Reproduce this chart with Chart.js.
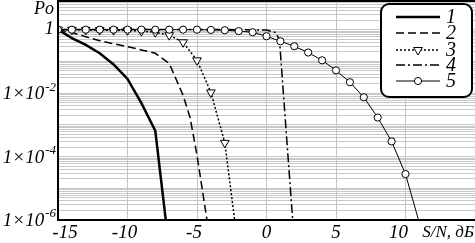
<!DOCTYPE html>
<html><head><meta charset="utf-8">
<script src="https://cdn.jsdelivr.net/npm/chart.js@4"></script>
<style>html,body{margin:0;padding:0;background:#fff;}#wrap{width:475px;height:243px;position:relative;}</style>
</head><body><div id="wrap"><canvas id="c" width="475" height="243"></canvas></div>
<script>
// ---- data ----
const x1 = [-15,-14,-13,-12,-11,-10,-9,-8,-7];
const y1 = [1,0.54,0.33,0.18,0.08,0.028,0.0048,0.00065,1.2e-7];
const x2 = [-15,-14,-13,-12,-11,-10,-9,-8,-7,-6,-5.5,-5,-4];
const y2 = [1,0.8,0.6,0.45,0.36,0.29,0.23,0.18,0.087,0.0085,0.0017,0.00011,1.6e-7];
const x3 = [-15,-14,-13,-12,-11,-10,-9,-8,-7,-6,-5,-4,-3,-2];
const y3 = [1,0.99,0.98,0.97,0.96,0.95,0.9,0.83,0.67,0.4,0.108,0.0105,0.00027,1e-7];
const x4 = [-15,-10,-5,-2,0,0.7,0.94,2];
const y4 = [1.02,1.02,1.01,1.0,0.97,0.8,0.43,2e-7];
const x5 = [-15,-14,-13,-12,-11,-10,-9,-8,-7,-6,-5,-4,-3,-2,-1,0,1,2,3,4,5,6,7,8,9,10,11];
const y5 = [1,1,1,1,1,1,1,1,1,1,1,0.98,0.96,0.9,0.83,0.62,0.43,0.3,0.19,0.108,0.052,0.022,0.0074,0.0017,0.0003,0.000028,8e-7];
const seriesNames = ["1","2","3","4","5"];
const xTickValues = [-15,-10,-5,0,5,10];
const xAxisTitle = "S/N, дБ";
const yTickValues = [1,1e-2,1e-4,1e-6];
const yTickExp = [0,-2,-4,-6];
const yAxisTitle = "Po";
const xMin = -15, xMax = 15, yMin = 1e-6, yMax = 8;

const pts = (xs, ys) => xs.map((x,i)=>({x:x, y:ys[i]}));
const gridValues = [];
for (let e=-6; e<=0; e++) for (let n=1;n<=9;n++){ const v=n*Math.pow(10,e); if(v>=yMin && v<=yMax) gridValues.push(v); }

const SERIF = '"Liberation Serif", "DejaVu Serif", serif';
const FONT = 'italic 19px ' + SERIF;
const styles = [
  {borderWidth:2.5, borderDash:[], radius:0},
  {borderWidth:1.5, borderDash:[8,4], radius:0},
  {borderWidth:1.5, borderDash:[2,2], radius:5, pstyle:'triangle', rot:180},
  {borderWidth:1.5, borderDash:[9,3,2,3], radius:0},
  {borderWidth:1, borderDash:[], radius:3.6, pstyle:'circle'}
];
const dataSets = [pts(x1,y1),pts(x2,y2),pts(x3,y3),pts(x4,y4),pts(x5,y5)];

const datasets = dataSets.map((d,i)=>{
  const s = styles[i];
  const r = s.radius;
  return {
    label: seriesNames[i], data: d,
    borderColor:'#000', backgroundColor:'#fff', borderWidth:s.borderWidth,
    borderDash:s.borderDash, tension:0,
    pointRadius: (i===4 || i===2) ? d.map((p,k)=>k===d.length-1?0:r) : r,
    pointStyle: s.pstyle || 'circle', pointRotation: s.rot||0,
    pointBorderWidth: 1, pointBorderColor:'#000', pointBackgroundColor:'#fff',
    clip: 0, order: 5-i
  };
});

function drawSample(ctx, i, x0, x1, y){
  const s = styles[i];
  ctx.save();
  ctx.strokeStyle='#000'; ctx.lineWidth=s.borderWidth; ctx.setLineDash(s.borderDash);
  ctx.beginPath(); ctx.moveTo(x0,y); ctx.lineTo(x1,y); ctx.stroke();
  ctx.setLineDash([]);
  const cx=(x0+x1)/2;
  if (s.pstyle==='triangle'){
    const r=5; ctx.lineWidth=1; ctx.fillStyle='#fff';
    ctx.beginPath(); ctx.moveTo(cx-r*0.87,y-r*0.5); ctx.lineTo(cx+r*0.87,y-r*0.5); ctx.lineTo(cx,y+r); ctx.closePath(); ctx.fill(); ctx.stroke();
  } else if (s.pstyle==='circle'){
    ctx.lineWidth=1; ctx.fillStyle='#fff';
    ctx.beginPath(); ctx.arc(cx,y,3.6,0,Math.PI*2); ctx.fill(); ctx.stroke();
  }
  ctx.restore();
}

const deco = {
  id:'deco',
  afterDraw(chart){
    const ctx=chart.ctx, a=chart.chartArea, xs=chart.scales.x, ys=chart.scales.y;
    ctx.save();
    ctx.strokeStyle='#000'; ctx.lineWidth=2;
    ctx.beginPath(); ctx.moveTo(a.left, 1); ctx.lineTo(a.right, 1); ctx.stroke();
    ctx.beginPath(); ctx.moveTo(a.left, 0); ctx.lineTo(a.left, a.bottom); ctx.lineTo(a.right, a.bottom); ctx.stroke();
    ctx.fillStyle='#000'; ctx.font=FONT; ctx.textBaseline='middle'; ctx.textAlign='center';
    xTickValues.forEach(v=>{
      let px = xs.getPixelForValue(v);
      if (v===xMin) px += 7;
      else if (v<0) px -= 3;
      else if (v===10) px -= 7;
      ctx.fillText(String(v), px, 233);
    });
    ctx.font='italic 17px ' + SERIF; ctx.textAlign='right';
    ctx.fillText(xAxisTitle, 474, 233);
    yTickValues.forEach((v,i)=>{
      const py = ys.getPixelForValue(v);
      const e = yTickExp[i];
      if (e===0){ ctx.font=FONT; ctx.textAlign='right'; ctx.fillText('1', 54, py-1); }
      else {
        ctx.font='italic 13px ' + SERIF; ctx.textAlign='right';
        const sup=String(e); const w=ctx.measureText(sup).width;
        ctx.fillText(sup, 56, py-6);
        ctx.font=FONT; ctx.fillText('1\u00d710', 56-w-1, py+1);
      }
    });
    ctx.font='italic 18px ' + SERIF; ctx.textAlign='center';
    ctx.fillText(yAxisTitle, 44, 9);
    const L=381, T=4, R=472, B=97, rad=8;
    ctx.fillStyle='#fff'; ctx.strokeStyle='#000'; ctx.lineWidth=2;
    ctx.beginPath(); ctx.roundRect(L,T,R-L,B-T,rad); ctx.fill(); ctx.stroke();
    const rows=[17,33,50,65,81];
    seriesNames.forEach((n,i)=>{
      drawSample(ctx,i,396,440,rows[i]);
      ctx.fillStyle='#000'; ctx.font='italic 20px ' + SERIF; ctx.textAlign='center'; ctx.textBaseline='middle';
      ctx.fillText(n, 451, rows[i]+1);
    });
    ctx.restore();
  }
};

new Chart(document.getElementById('c'), {
  type:'line',
  data:{datasets},
  options:{
    responsive:false, animation:false, devicePixelRatio:1,
    layout:{autoPadding:false, padding:{left:58,right:0,top:1,bottom:23}},
    plugins:{legend:{display:false}, tooltip:{enabled:false}},
    scales:{
      x:{type:'linear', min:xMin, max:xMax,
        afterBuildTicks:(s)=>{ s.ticks = xTickValues.concat([xMax]).map(v=>({value:v})); },
        ticks:{display:false}, border:{display:false},
        grid:{color:(c)=> (c.tick && (c.tick.value===xMin || c.tick.value===xMax)) ? 'rgba(0,0,0,0)' : '#c4c4c4', lineWidth:1, drawTicks:false}},
      y:{type:'logarithmic', min:yMin, max:yMax,
        afterBuildTicks:(s)=>{ s.ticks = gridValues.map(v=>({value:v})); },
        ticks:{display:false, autoSkip:false}, border:{display:false},
        grid:{color:'#c8c8c8', lineWidth:1, drawTicks:false}}
    }
  },
  plugins:[deco]
});
</script></body></html>
